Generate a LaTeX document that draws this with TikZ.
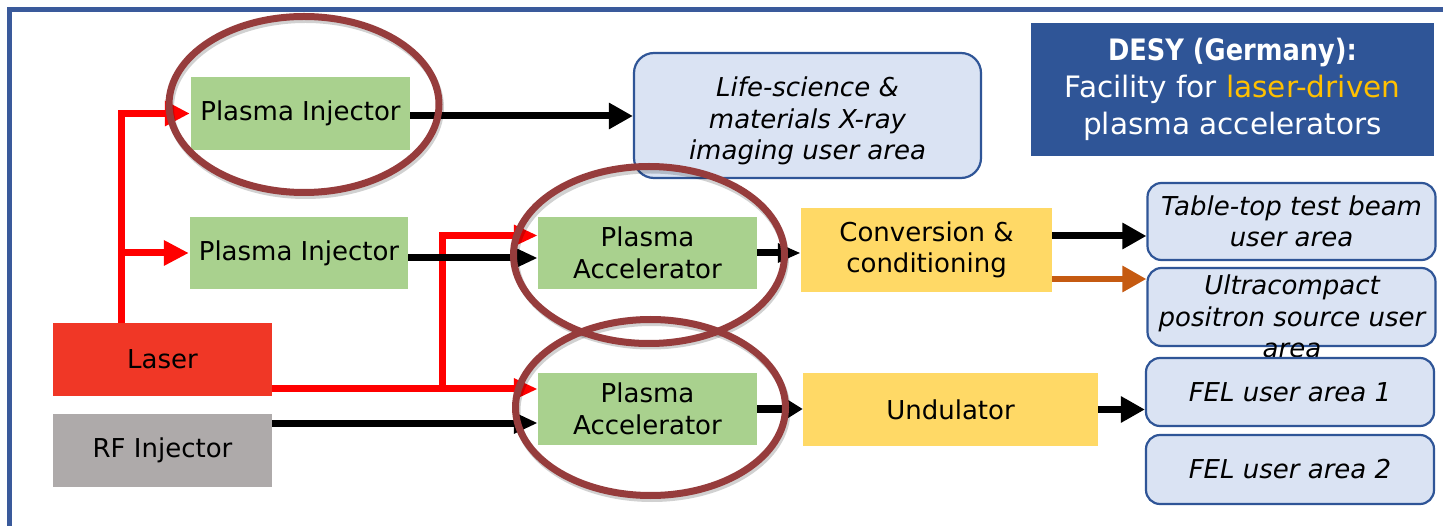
\documentclass[tikz,border=0pt]{standalone}
\usepackage{fontspec}
\setmainfont{DejaVu Sans}
\usepackage{graphicx}
\usetikzlibrary{arrows.meta,calc}

\definecolor{frameblue}{HTML}{3A5A9B}
\definecolor{plgreen}{HTML}{A9D18E}
\definecolor{laserred}{HTML}{F03726}
\definecolor{beamred}{HTML}{FF0000}
\definecolor{rfgrey}{HTML}{AEAAAA}
\definecolor{stageyellow}{HTML}{FFD966}
\definecolor{userfill}{HTML}{DAE3F3}
\definecolor{userblue}{HTML}{2F5597}
\definecolor{desyblue}{HTML}{2F5597}
\definecolor{goldtext}{HTML}{FFC000}
\definecolor{ringred}{HTML}{963C3C}
\definecolor{positron}{HTML}{C55A11}

\newcommand\lblfont{\fontsize{26}{31.5}\selectfont}
\newcommand\usrfont{\fontsize{26}{31.5}\selectfont\itshape}
\newcommand\desyfont{\fontsize{29.5}{37}\selectfont}

\tikzset{
  box/.style={inner sep=0pt, anchor=center, align=center, font=\lblfont},
  greenbox/.style={box, fill=plgreen},
  yellowbox/.style={box, fill=stageyellow},
  userbox/.style={box, draw=userblue, fill=userfill, line width=2.2pt,
    rounded corners=14pt, font=\usrfont},
  usertext/.style={inner sep=0pt, anchor=center, align=center, font=\usrfont},
  beam/.style={line width=7pt, draw=black},
  bigtip/.style={-{Triangle[length=24pt,width=25pt]}},
  smalltip/.style={-{Triangle[length=24pt,width=20pt]}},
  laserbeam/.style={beam, draw=beamred},
  ring/.style={draw=ringred, line width=7pt},
  ringshadow/.style={draw=black, opacity=0.18, line width=7pt},
}

\begin{document}
\begin{tikzpicture}[x=1pt, y=-1pt]
  \useasboundingbox (0,0) rectangle (1443,526);
  \fill[white] (0,0) rectangle (1443,526);

  % slide frame
  \draw[frameblue, line width=4.5pt] (1443,9.5) -- (9.5,9.5) -- (9.5,526);

  % sources and plasma stages
  \node[greenbox, minimum width=219pt, minimum height=73pt] (pi1) at (300.5,113.5) {Plasma Injector};
  \node[greenbox, minimum width=218pt, minimum height=72pt] (pi2) at (299,253) {Plasma Injector};
  \node[box, fill=laserred, minimum width=219pt, minimum height=73pt] (laser) at (162.5,359.5) {Laser};
  \node[box, fill=rfgrey, minimum width=219pt, minimum height=73pt] (rf) at (162.5,450.5) {RF Injector};
  \node[greenbox, minimum width=219pt, minimum height=72pt] (pa1) at (647.5,253) {Plasma\\Accelerator};
  \node[greenbox, minimum width=219pt, minimum height=72pt] (pa2) at (647.5,409) {Plasma\\Accelerator};
  \node[yellowbox, minimum width=251pt, minimum height=84pt] (conv) at (926.5,250) {Conversion \&\\conditioning};
  \node[yellowbox, minimum width=295pt, minimum height=73pt] (und) at (950.5,409.5) {Undulator};

  % user areas
  \node[userbox, minimum width=347pt, minimum height=125pt, rounded corners=20pt] (life) at (807.5,115.5) {};
  \node[usertext] (lifetext) at (807.5,121) {Life-science \&\\materials X-ray\\imaging user area};
  \node[userbox, minimum width=288pt, minimum height=77pt] (table) at (1291.5,221.5) {Table-top test beam\\user area};
  \node[userbox, minimum width=288pt, minimum height=78pt] (ultra) at (1291.5,307) {};
  \node[usertext] (ultratext) at (1292,316.5) {Ultracompact\\positron source user\\area};
  \node[userbox, minimum width=288pt, minimum height=68pt] (fel1) at (1290,392) {FEL user area 1};
  \node[userbox, minimum width=288pt, minimum height=69pt] (fel2) at (1290,469.5) {FEL user area 2};

  % facility title
  \node[box, fill=desyblue, text=white, font=\desyfont, minimum width=403pt, minimum height=133pt] (desy) at (1232.5,89.5)
    {\scalebox{0.87}[1]{\bfseries DESY (Germany):}\\Facility for \textcolor{goldtext}{laser-driven}\\plasma accelerators};

  % laser distribution
  \coordinate (lup) at ($(laser.north west)+(69,0)$);
  \draw[laserbeam, -{Triangle[length=25pt,width=24pt]}, shorten >=1pt] (lup) |- (pi1.west);
  \draw[laserbeam, -{Triangle[length=25pt,width=24pt]}, shorten >=1pt] (lup) |- (pi2.west);
  \coordinate (lout) at ($(laser.east)+(0,29.5)$);
  \coordinate (lsplit) at (442,389);
  \draw[laserbeam, smalltip] (lout) -- (lout -| pa2.west);
  \draw[laserbeam, smalltip] (lsplit) |- ($(pa1.west)+(0,-17.5)$);

  % electron beams
  \coordinate (b1) at ($(pi1.east)+(0,2.5)$);
  \draw[beam, bigtip] (b1) -- (b1 -| life.west);
  \coordinate (b2) at ($(pi2.east)+(0,5)$);
  \draw[beam, smalltip] (b2) -- (b2 -| pa1.west);
  \coordinate (b3) at ($(rf.east)+(0,-27.5)$);
  \draw[beam, smalltip] (b3) -- (b3 -| pa2.west);
  \draw[beam, -{Triangle[length=23pt,width=18pt]}] (pa1.east) -- (pa1.east -| conv.west);
  \draw[beam, -{Triangle[length=19pt,width=22pt]}] (pa2.east) -- (pa2.east -| und.west);
  \coordinate (b4) at ($(conv.east)+(0,-14)$);
  \draw[beam, bigtip] (b4) -- (b4 -| table.west);
  \coordinate (b5) at ($(conv.east)+(0,29)$);
  \draw[beam, draw=positron, line width=6pt, bigtip] (b5) -- (b5 -| ultra.west);
  \draw[beam, bigtip] (und.east) -- (und.east -| fel1.west);

  % highlight rings
  \foreach \cx/\cy in {304/104.5, 649/255, 650.5/407.5} {
    \draw[ringshadow] (\cx+1.5,\cy+3) ellipse [x radius=135pt, y radius=88pt];
  }
  \draw[ring] (304,104.5) ellipse [x radius=135pt, y radius=88pt];
  \draw[ring] (649,255) ellipse [x radius=135.5pt, y radius=88.5pt];
  \draw[ring] (650.5,407.5) ellipse [x radius=135pt, y radius=88pt];
\end{tikzpicture}
\end{document}
